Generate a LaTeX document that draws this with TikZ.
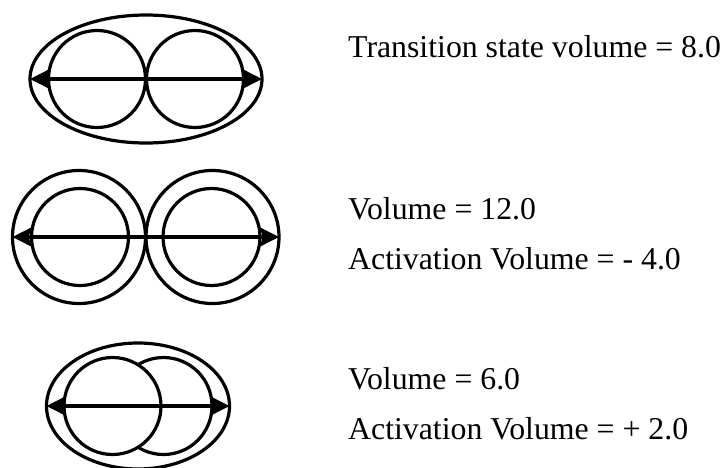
\documentclass[tikz,border=0pt]{standalone}
\usepackage{fontspec}
\setmainfont{Liberation Serif}
\usetikzlibrary{arrows.meta,shapes.geometric}
\tikzset{
  shell/.style={draw,ellipse,line width=3.2pt,inner sep=0pt,outer sep=0pt},
  sphere/.style={draw,circle,line width=3.2pt,inner sep=0pt,outer sep=0pt},
  axis/.style={line width=3.2pt,
    {Stealth[length=19pt,width=19pt,inset=3pt]}-{Stealth[length=19pt,width=19pt,inset=3pt]}},
  vollabel/.style={anchor=base west,inner sep=0pt,font=\fontsize{31.8}{38}\selectfont}
}

\begin{document}
\begin{tikzpicture}[x=1pt,y=-1pt]
      \useasboundingbox (0,0) rectangle (726,467);

      % transition state
      \node[shell,minimum width=232pt,minimum height=128pt] (ts) at (146,79) {};
      \node[sphere,minimum size=97pt] (tsa) at (97,79) {};
      \node[sphere,minimum size=97pt] (tsb) at (195,79) {};
      \draw[axis] (ts.west) -- (ts.east);
      \node[vollabel] (tslab) at (348,57) {Transition state volume = 8.0};

      % separated pair
      \node[sphere,minimum size=133pt] (sepa) at (79,237) {};
      \node[sphere,minimum size=133pt] (sepb) at (212.5,237) {};
      \node[sphere,minimum size=97pt] (sepai) at (80,237) {};
      \node[sphere,minimum size=97pt] (sepbi) at (211.5,237) {};
      \draw[axis] (sepa.west) -- (sepb.east);
      \node[vollabel] (seplab) at (348,219) {Volume = 12.0};
      \node[vollabel] (sepact) at (348,269) {Activation Volume = - 4.0};

      % overlapping pair (left sphere in front)
      \node[shell,minimum width=183pt,minimum height=126pt] (ov) at (138,406) {};
      \node[sphere,minimum size=97pt] (ovb) at (163.5,406) {};
      \node[sphere,fill=white,minimum size=97pt] (ova) at (112.5,406) {};
      \draw[axis] (ov.west) -- (ov.east);
      \node[vollabel] (ovlab) at (348,389) {Volume = 6.0};
      \node[vollabel] (ovact) at (348,439) {Activation Volume = + 2.0};

\end{tikzpicture}
\end{document}
